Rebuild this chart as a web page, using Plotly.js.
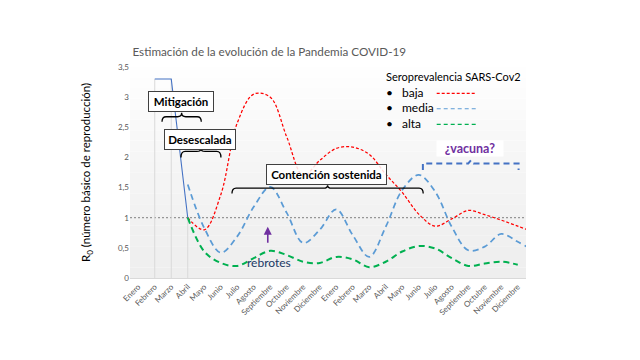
<!DOCTYPE html>
<html>
<head>
<meta charset="utf-8">
<script src="https://cdn.plot.ly/plotly-3.0.1.min.js"></script>
<style>html,body{margin:0;padding:0;background:#fff;}#chart{width:640px;height:360px;}</style>
</head>
<body>
<div id="chart"></div>
<script>
// ---- data ----
const months = ['Enero','Febrero','Marzo','Abril','Mayo','Junio','Julio','Agosto','Septiembre','Octubre','Noviembre','Diciembre'];
const xLabels = months.concat(months);            // 2020 + 2021
const fasesX = [1, 2, 3];                           // Feb, Mar, Abr 2020
const fasesR = [3.3, 3.3, 1.0];                     // observed R0 (solid line)
const startIdx = 3;                                 // scenarios start in Abril 2020
const bajaR  = [1.0,0.8,1.38,2.57,3.05,3.0,2.34,1.7,1.95,2.15,2.17,2.05,1.72,1.42,1.06,0.86,0.98,1.12,1.05,0.96,0.86,0.76];
const mediaR = [1.55,0.83,0.42,0.69,1.18,1.51,1.08,0.58,0.8,1.14,0.71,0.35,0.85,1.46,1.71,1.43,0.85,0.46,0.52,0.73,0.6,0.45];
const altaR  = [1.0,0.44,0.25,0.2,0.33,0.45,0.38,0.27,0.25,0.35,0.31,0.18,0.27,0.44,0.53,0.49,0.33,0.2,0.24,0.27,0.22];
const yTicks = [0,0.5,1,1.5,2,2.5,3,3.5];
const legendTitle = 'Seroprevalencia SARS-Cov2';
const legendNames = ['baja', 'media', 'alta'];

const idx = (arr) => arr.map((_, i) => startIdx + i);
const F = 'Lato, "Open Sans", sans-serif';

const traces = [
  {x: fasesX, y: fasesR, mode: 'lines', line: {color: '#4472c4', width: 1.1}},
  {x: idx(bajaR), y: bajaR, mode: 'lines', line: {color: '#ff0000', width: 1.25, dash: '3px,2px', shape: 'spline', smoothing: 1}},
  {x: idx(mediaR), y: mediaR, mode: 'lines', line: {color: '#5b9bd5', width: 1.75, dash: '6px,4px', shape: 'spline', smoothing: 1}},
  {x: idx(altaR), y: altaR, mode: 'lines', line: {color: '#00b050', width: 2, dash: '6px,4px', shape: 'spline', smoothing: 1}}
];

const shapes = [];
// gradient plot background
const nBands = 20;
for (let b = 0; b < nBands; b++) {
  const t = (b + 0.5) / nBands;           // 0 bottom .. 1 top
  const g = Math.round(238 + (255 - 238) * Math.pow(t, 1.3));
  shapes.push({type: 'rect', xref: 'paper', yref: 'paper', x0: 0, x1: 1, y0: b / nBands, y1: (b + 1) / nBands,
    fillcolor: `rgb(${g},${g},${g})`, line: {width: 0}, layer: 'below'});
}
// drop lines from the observed series
fasesX.forEach((xv, i) => shapes.push({type: 'line', x0: xv, x1: xv, y0: 0, y1: fasesR[i], line: {color: '#d9d9d9', width: 1}, layer: 'below'}));
// R0 = 1 reference
shapes.push({type: 'line', xref: 'paper', x0: 0, x1: 1, y0: 1, y1: 1, line: {color: '#7f7f7f', width: 1, dash: '2px,2px'}, layer: 'below'});

function brace(x0, x1, yh, yend, ytip, color, dash) {
  const xm = (x0 + x1) / 2, r = Math.min(0.25, (x1 - x0) / 8);
  const path = `M ${x0},${yend} Q ${x0},${yh} ${x0 + r},${yh} L ${xm - r},${yh} Q ${xm},${yh} ${xm},${ytip} Q ${xm},${yh} ${xm + r},${yh} L ${x1 - r},${yh} Q ${x1},${yh} ${x1},${yend}`;
  return {type: 'path', path: path, line: {color: color, width: dash ? 2 : 1.3, dash: dash || 'solid'}, layer: 'above'};
}
shapes.push(brace(1.44, 3.82, 2.675, 2.59, 2.74, '#000'));
shapes.push(brace(2.59, 5.01, 2.10, 2.0, 2.14, '#000'));
shapes.push(brace(5.68, 17.27, 1.49, 1.40, 1.54, '#000'));
// vaccine bracket (dashed)
shapes.push({type: 'path', path: 'M 17.25,1.79 L 17.25,1.90 L 20.0,1.90 L 20.16,1.95 L 20.32,1.90 L 23.05,1.90 L 23.05,1.79',
  line: {color: '#4472c4', width: 2, dash: '6px,4px'}, layer: 'above'});

// legend samples
const legY = [0.880, 0.807, 0.733];
const legCol = ['#ff0000', '#5b9bd5', '#00b050'];
const legDash = ['3px,2px', '4px,3px', '4px,3px'];
legY.forEach((yv, i) => shapes.push({type: 'line', xref: 'paper', yref: 'paper', x0: 0.7745, x1: 0.875, y0: yv - 0.005, y1: yv - 0.005,
  line: {color: legCol[i], width: 1.1, dash: legDash[i]}}));

const boxFont = {family: F, size: 11.5, color: '#000'};
const annotations = [
  {x: 2.61, y: 2.92, text: '<b>Mitigación</b>', showarrow: false, font: boxFont, bgcolor: '#fff', bordercolor: '#404040', borderwidth: 1, borderpad: 3, width: 58, height: 13},
  {x: 3.76, y: 2.30, text: '<b>Desescalada</b>', showarrow: false, font: boxFont, bgcolor: '#fff', bordercolor: '#404040', borderwidth: 1, borderpad: 3, width: 64, height: 13},
  {x: 11.42, y: 1.717, text: '<b>Contención sostenida</b>', showarrow: false, font: boxFont, bgcolor: 'rgba(255,255,255,0.85)', bordercolor: '#404040', borderwidth: 1, borderpad: 3, width: 113, height: 13},
  {x: 20.12, y: 2.15, text: '<b>¿vacuna?</b>', showarrow: false, font: {family: F, size: 12.5, color: '#7030a0'}, bgcolor: '#fff', borderpad: 1, width: 64, height: 13},
  {x: 7.94, y: 0.265, text: 'rebrotes', showarrow: false, font: {family: F, size: 12, color: '#203864'}},
  {x: 7.85, y: 0.85, ax: 0, ay: 25, text: ' ', showarrow: true, arrowhead: 2, arrowsize: 1, arrowwidth: 1.6, arrowcolor: '#7030a0'},
  // legend title
  {xref: 'paper', yref: 'paper', x: 0.641, y: 0.954, xanchor: 'left', yanchor: 'middle', text: legendTitle, showarrow: false, font: {family: F, size: 11, color: '#000'}}
];
legendNames.forEach((nm, i) => {
  annotations.push({xref: 'paper', yref: 'paper', x: 0.641, y: legY[i], xanchor: 'left', yanchor: 'middle', text: '•', showarrow: false, font: {family: F, size: 12, color: '#000'}});
  annotations.push({xref: 'paper', yref: 'paper', x: 0.682, y: legY[i], xanchor: 'left', yanchor: 'middle', text: nm, showarrow: false, font: {family: F, size: 12, color: '#000'}});
});

const layout = {
  width: 640, height: 360,
  margin: {l: 130, r: 114, t: 67, b: 82},
  paper_bgcolor: '#fff', plot_bgcolor: 'rgba(0,0,0,0)',
  separators: ',.',
  showlegend: false, hovermode: false,
  font: {family: F},
  title: {text: 'Estimación de la evolución de la Pandemia COVID-19', font: {family: F, size: 11.7, color: '#595959'},
    xref: 'container', yref: 'container', x: 0.207, xanchor: 'left', y: 0.856, yanchor: 'middle'},
  xaxis: {range: [-0.5, 23.5], tickvals: xLabels.map((_, i) => i), ticktext: xLabels, tickangle: -45,
    tickfont: {family: F, size: 8, color: '#595959'}, showgrid: false, zeroline: false, showline: true, linecolor: '#d9d9d9', ticks: ''},
  yaxis: {range: [0, 3.5], tickvals: yTicks, tickfont: {family: F, size: 8, color: '#595959'}, showgrid: false, zeroline: false, showline: false, ticks: '',
    title: {text: 'R<sub>0</sub> (número básico de reproducción)', font: {family: F, size: 11.5, color: '#000'}, standoff: 24}},
  shapes: shapes,
  annotations: annotations
};

Plotly.newPlot('chart', traces, layout, {displayModeBar: false, staticPlot: true});
</script>
</body>
</html>
